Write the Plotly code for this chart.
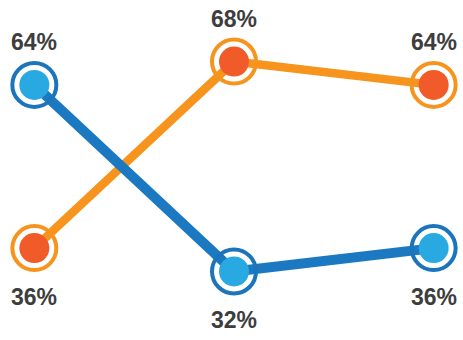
import plotly.graph_objects as go

# Three time points, two series (percent values)
positions = [0, 1, 2]
blue_values = [64, 32, 36]
orange_values = [36, 68, 64]
blue_labels = ["64%", "32%", "36%"]
orange_labels = ["36%", "68%", "64%"]

BLUE_LINE = "#1b79c2"
BLUE_RING = "#1b75bc"
BLUE_DOT = "#29a9e1"
ORANGE_LINE = "#f7941d"
ORANGE_RING = "#f7941d"
ORANGE_DOT = "#f15a29"
TEXT = "#3d3d3d"

fig = go.Figure()

series = [
    (orange_values, orange_labels, ORANGE_LINE, ORANGE_RING, ORANGE_DOT, 8.5),
    (blue_values, blue_labels, BLUE_LINE, BLUE_RING, BLUE_DOT, 10),
]

# connecting lines (orange first so blue crosses over it)
for vals, _, lc, _, _, lw in series:
    fig.add_trace(go.Scatter(x=positions, y=vals, mode="lines",
                             line=dict(color=lc, width=lw),
                             hoverinfo="skip", showlegend=False))

# open outer rings, then solid inner dots
for vals, _, _, rc, dc, _ in series:
    fig.add_trace(go.Scatter(x=positions, y=vals, mode="markers",
                             marker=dict(size=44, color="rgba(0,0,0,0)",
                                         line=dict(color=rc, width=4)),
                             hoverinfo="skip", showlegend=False))
    fig.add_trace(go.Scatter(x=positions, y=vals, mode="markers",
                             marker=dict(size=30, color=dc, line=dict(width=0)),
                             hoverinfo="skip", showlegend=False))

# value labels: above the higher point of each pair, below the lower one
for i, x in enumerate(positions):
    for vals, labels, other in ((blue_values, blue_labels, orange_values),
                                (orange_values, orange_labels, blue_values)):
        above = vals[i] > other[i]
        fig.add_annotation(x=x, y=vals[i], text=f"<b>{labels[i]}</b>",
                           showarrow=False, yshift=43 if above else -49,
                           font=dict(family="Liberation Sans, Arial, sans-serif",
                                     size=23, color=TEXT))

fig.update_layout(
    width=463, height=340,
    margin=dict(l=0, r=0, t=0, b=0),
    paper_bgcolor="white", plot_bgcolor="white",
    xaxis=dict(range=[-0.172, 2.147], visible=False, fixedrange=True),
    yaxis=dict(range=[20.24, 78.56], visible=False, fixedrange=True),
)

fig.write_html("out.html")
